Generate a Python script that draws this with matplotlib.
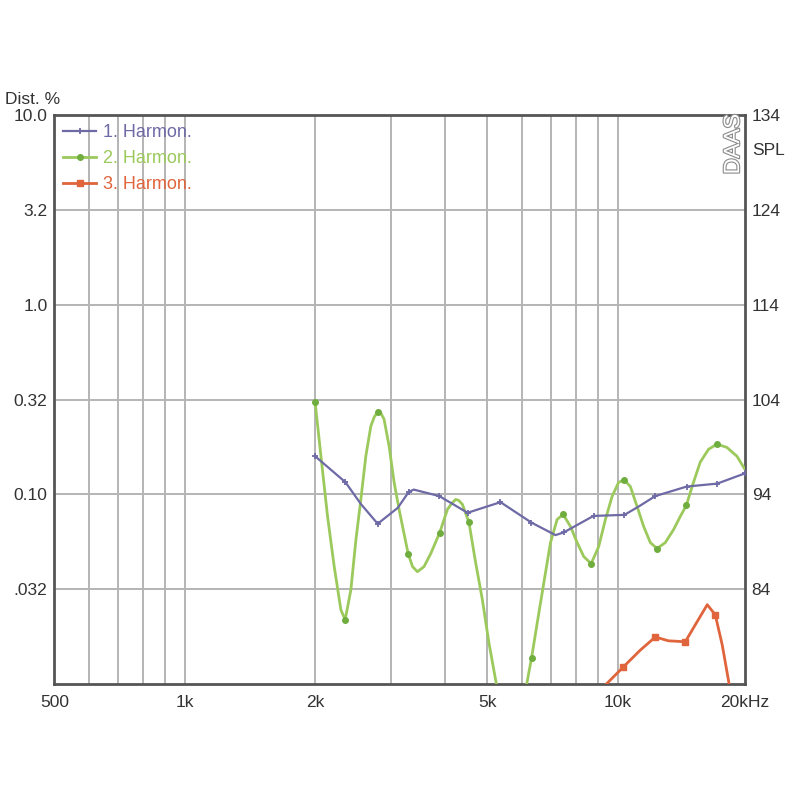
import matplotlib.pyplot as plt
from matplotlib import patheffects

plt.rcParams['font.family'] = ['Liberation Sans Narrow', 'Liberation Sans', 'DejaVu Sans']

# 1. Harmon. (Hz, %)
h1_freq = [2000, 2350, 2551, 2790, 3105, 3290, 3380, 3870, 4500, 5360, 6320, 7180, 7500,
           8790, 10360, 11150, 12210, 14430, 16970, 19650]
h1_dist = [0.159, 0.116, 0.089, 0.070, 0.085, 0.103, 0.106, 0.098, 0.080, 0.091, 0.071, 0.061, 0.063,
           0.077, 0.078, 0.086, 0.098, 0.110, 0.114, 0.129]
h1_marks = [0, 1, 3, 5, 7, 8, 9, 10, 12, 13, 14, 16, 17, 18, 19]

# 2. Harmon.
h2_freq = [2000, 2063, 2137, 2214, 2294, 2347, 2419, 2485, 2551, 2619, 2690, 2738, 2787, 2837,
           2886, 2964, 3044, 3126, 3280, 3358, 3446, 3569, 3699, 3880, 4042, 4135, 4224, 4291,
           4377, 4533, 4696, 4868, 5040, 5223, 5686, 6157, 6322, 6516, 6749, 6992, 7244, 7482,
           7777, 8057, 8345, 8680, 9036, 9365, 9703, 10049, 10358, 10693, 11080, 11477, 11891,
           12321, 12877, 13457, 13944, 14397, 14962, 15505, 16205, 16943, 17865, 18842, 19650]
h2_dist = [0.307, 0.159, 0.0765, 0.0416, 0.0246, 0.0218, 0.0314, 0.0578, 0.0941, 0.159, 0.229,
           0.2555, 0.272, 0.2684, 0.249, 0.180, 0.116, 0.0833, 0.0487, 0.0416, 0.0391, 0.0416,
           0.0487, 0.0629, 0.0833, 0.0896, 0.0941, 0.0930, 0.0886, 0.0711, 0.0437, 0.0278,
           0.0165, 0.0105, 0.0040, 0.0099, 0.0137, 0.0210, 0.0342, 0.0557, 0.0738, 0.0784,
           0.0677, 0.0557, 0.0470, 0.0431, 0.0531, 0.0738, 0.0976, 0.116, 0.119, 0.110, 0.0864,
           0.0677, 0.0557, 0.0518, 0.0557, 0.0653, 0.0765, 0.0875, 0.116, 0.148, 0.173, 0.184,
           0.177, 0.159, 0.136]
h2_marks = [0, 5, 12, 18, 23, 29, 36, 41, 45, 50, 55, 59, 63]

# 3. Harmon.
h3_freq = [9120, 9616, 10300, 11277, 12210, 13084, 14320, 15097, 16093, 16791, 17425, 18180]
h3_dist = [0.0093, 0.0105, 0.0123, 0.0151, 0.0177, 0.0169, 0.0167, 0.0205, 0.0262, 0.0232,
           0.0161, 0.0093]
h3_marks = [2, 4, 6, 9]

grid_freq = [600, 700, 800, 900, 1000, 2000, 3000, 4000, 5000, 6000, 7000, 8000, 9000, 10000]
dist_ticks = [10.0, 3.162, 1.0, 0.3162, 0.1, 0.03162]
dist_labels = ['10.0', '3.2', '1.0', '0.32', '0.10', '.032']
freq_ticks = [500, 1000, 2000, 5000, 10000, 19650]
freq_labels = ['500', '1k', '2k', '5k', '10k', '20kHz']
spl_ticks = [84, 94, 104, 114, 124, 134]

c1, c2, c3 = '#6e6aa6', '#9cc95c', '#e0643c'
txt = '#333333'

fig = plt.figure(figsize=(8, 8), dpi=100)
ax = fig.add_axes([0.068, 0.145, 0.863, 0.711])
ax.set_xscale('log')
ax.set_yscale('log')
ax.set_xlim(500, 19650)
ax.set_ylim(0.01, 10)

for f in grid_freq:
    ax.axvline(f, color='#b4b4b4', lw=1.4, zorder=1)
for d in dist_ticks[1:]:
    ax.axhline(d, color='#b4b4b4', lw=1.4, zorder=1)

ax.plot(h1_freq, h1_dist, color=c1, lw=1.6, marker='+', ms=5, mew=1.3,
        markevery=h1_marks, label='1. Harmon.', zorder=4, solid_joinstyle='round')
ax.plot(h2_freq, h2_dist, color=c2, lw=2.0, marker='o', ms=4, mfc='#6fae3e', mec='#6fae3e',
        markevery=h2_marks, label='2. Harmon.', zorder=3, solid_joinstyle='round')
ax.plot(h3_freq, h3_dist, color=c3, lw=2.0, marker='s', ms=4.5, mfc='#e0643c', mec='#e0643c',
        markevery=h3_marks, label='3. Harmon.', zorder=3, solid_joinstyle='round')

ax.set_xticks(freq_ticks)
ax.set_xticklabels(freq_labels)
ax.set_yticks(dist_ticks)
ax.set_yticklabels(dist_labels)
ax.minorticks_off()
ax.tick_params(length=0, labelsize=12.5, colors=txt)
ax.tick_params(axis='x', pad=8)
ax.tick_params(axis='y', pad=5)
for s in ax.spines.values():
    s.set_color('#555555')
    s.set_linewidth(2)

ax2 = ax.twinx()
ax2.set_ylim(74, 134)
ax2.set_yticks(spl_ticks)
ax2.tick_params(length=0, labelsize=12.5, colors=txt, pad=5)
for s in ax2.spines.values():
    s.set_visible(False)

leg = ax.legend(loc='upper left', frameon=False, fontsize=13, handlelength=1.8,
                borderaxespad=0.1, labelspacing=0.5, handletextpad=0.4)
for t, c in zip(leg.get_texts(), [c1, c2, c3]):
    t.set_color(c)

fig.text(0.006, 0.876, 'Dist. %', fontsize=12.5, color=txt, va='center')
fig.text(0.94, 0.812, 'SPL', fontsize=12.5, color=txt, va='center')
fig.text(0.917, 0.82, 'DAAS', fontsize=16, color='white', rotation=90, ha='center', va='center',
         path_effects=[patheffects.withStroke(linewidth=1.6, foreground='#8a8a8a')])

plt.savefig('out.png')
